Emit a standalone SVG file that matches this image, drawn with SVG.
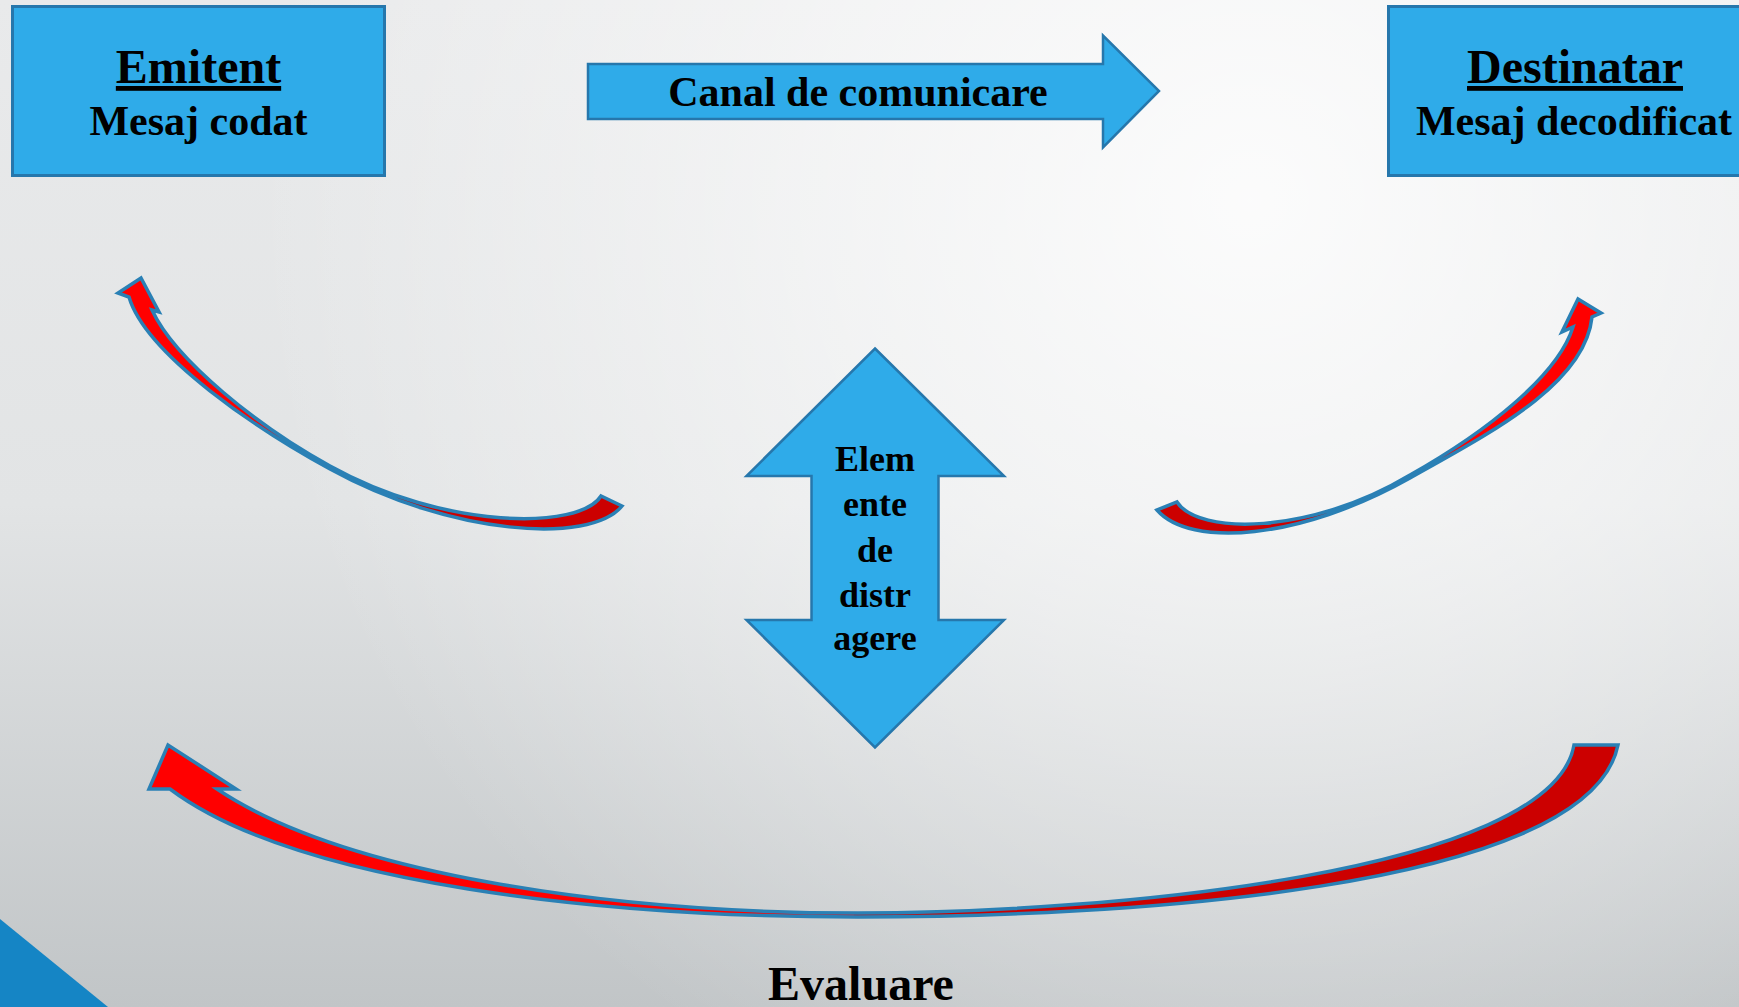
<svg xmlns="http://www.w3.org/2000/svg" width="1739" height="1007" viewBox="0 0 1739 1007">
  <defs>
    <linearGradient id="bgBase" x1="0" y1="0" x2="0" y2="1007" gradientUnits="userSpaceOnUse">
      <stop offset="0" stop-color="#E9EAEB"/>
      <stop offset="0.5" stop-color="#E2E4E5"/>
      <stop offset="1" stop-color="#C1C5C7"/>
    </linearGradient>
    <radialGradient id="bgGlow" cx="1250" cy="200" r="1000" gradientUnits="userSpaceOnUse">
      <stop offset="0" stop-color="#FFFFFF" stop-opacity="0.85"/>
      <stop offset="0.45" stop-color="#FFFFFF" stop-opacity="0.5"/>
      <stop offset="1" stop-color="#FFFFFF" stop-opacity="0"/>
    </radialGradient>
    <linearGradient id="redLeft" x1="129" y1="0" x2="622" y2="0" gradientUnits="userSpaceOnUse">
      <stop offset="0.45" stop-color="#FF0000"/>
      <stop offset="0.45" stop-color="#CC0000"/>
    </linearGradient>
    <linearGradient id="redRight" x1="1157" y1="0" x2="1601" y2="0" gradientUnits="userSpaceOnUse">
      <stop offset="0.55" stop-color="#CC0000"/>
      <stop offset="0.55" stop-color="#FF0000"/>
    </linearGradient>
    <linearGradient id="redBottom" x1="149" y1="0" x2="1618" y2="0" gradientUnits="userSpaceOnUse">
      <stop offset="0.48" stop-color="#FF0000"/>
      <stop offset="0.48" stop-color="#CC0000"/>
    </linearGradient>
    <style>
      .box { fill: #2FABE9; stroke: #2677AC; stroke-width: 3; }
      .blue-arrow { fill: #2FABE9; stroke: #2677AC; stroke-width: 2.5; stroke-linejoin: miter; }
      .curve { stroke: #2A80B5; stroke-width: 3.5; stroke-linejoin: miter; }
      .label { font-family: "Liberation Serif", "Times New Roman", serif; font-weight: bold; fill: #000000; text-anchor: middle; }
      .title { font-size: 48px; text-decoration: underline; }
      .sub { font-size: 42px; }
      .mid { font-size: 36px; }
    </style>
  </defs>

  <!-- background -->
  <rect x="0" y="0" width="1739" height="1007" fill="url(#bgBase)"/>
  <rect x="0" y="0" width="1739" height="1007" fill="url(#bgGlow)"/>
  <polygon points="0,919 108,1007 0,1007" fill="#1585C5"/>

  <!-- sender -->
  <g id="emitent">
    <rect class="box" x="12.5" y="6.5" width="372" height="169"/>
    <text class="label title" x="198.5" y="83">Emitent</text>
    <text class="label sub" x="198.5" y="135">Mesaj codat</text>
  </g>

  <!-- receiver -->
  <g id="destinatar">
    <rect class="box" x="1388.5" y="6.5" width="374" height="169"/>
    <text class="label title" x="1575" y="83">Destinatar</text>
    <text class="label sub" x="1574" y="135">Mesaj decodificat</text>
  </g>

  <!-- channel -->
  <g id="canal">
    <polygon class="blue-arrow" points="588,64 1103,64 1103,35.5 1159,91 1103,147.5 1103,119 588,119"/>
    <text class="label sub" x="858" y="106">Canal de comunicare</text>
  </g>

  <!-- distractions -->
  <g id="elemente">
    <polygon class="blue-arrow" points="875,348.5 1004,476 938.5,476 938.5,620 1004,620 875,747.5 746.5,620 811.5,620 811.5,476 746.5,476"/>
    <text class="label mid" x="875" y="471">Elem</text>
    <text class="label mid" x="875" y="516">ente</text>
    <text class="label mid" x="875" y="561.5">de</text>
    <text class="label mid" x="875" y="606.5">distr</text>
    <text class="label mid" x="875" y="650">agere</text>
  </g>

  <!-- feedback -->
  <g id="evaluare">
    <text class="label title" style="text-decoration:none" x="861" y="1000">Evaluare</text>
  </g>

  <!-- curved connectors: thick at both ends, pinched in the middle -->
  <g id="connectors">
    <path class="curve" fill="url(#redLeft)" d="M129,297 C146,355 260,431 330,469 C450,535 590,545 622,506 L601,496 C580,530 445,530 330,466 C260,428 175,360 152,310 L159,312 L141,278 L118,293 Z"/>
    <path class="curve" fill="url(#redRight)" d="M1157,510 C1190,548 1300,540 1410,478 C1488,434 1585,385 1592,317 L1601,313 L1578,299 L1562,332 L1573,327 C1558,375 1488,431 1410,475 C1310,535 1198,535 1177,502 Z"/>
    <path class="curve" fill="url(#redBottom)" d="M170,789 C298,885 608,917 858,917 C1108,917 1588,892 1618,745 L1574,745 C1552,872 1108,913 858,913 C608,913 342,873 217,789 L236,789 L168,745 L149,789 Z"/>
  </g>
</svg>
